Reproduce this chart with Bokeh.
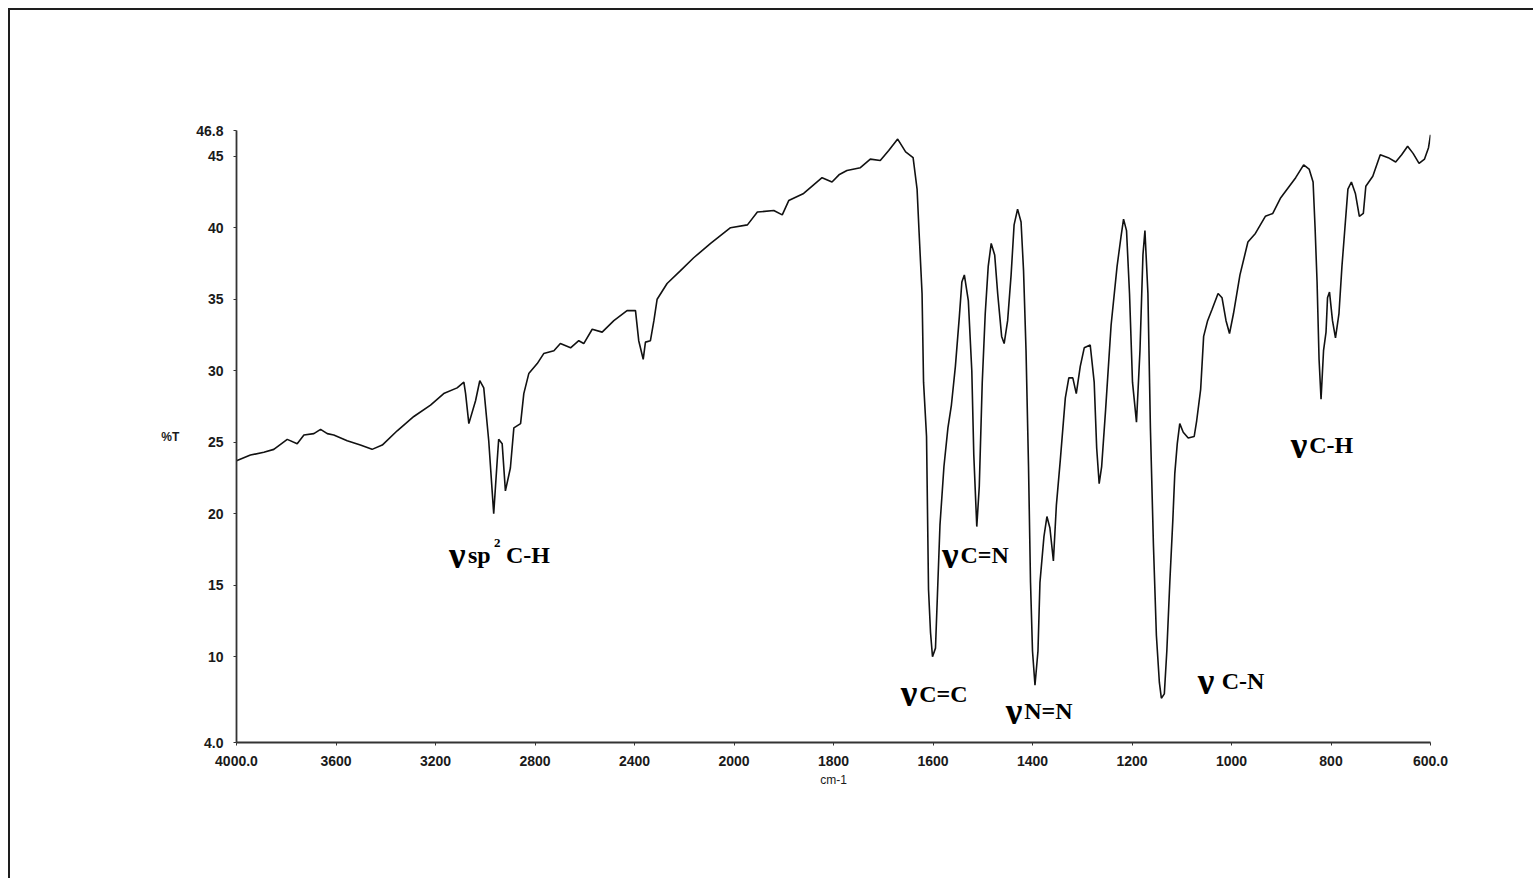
import numpy as np
from bokeh.plotting import figure
from bokeh.models import Range1d, FixedTicker
from bokeh.core.properties import value
from bokeh.embed import file_html
from bokeh.resources import INLINE

# ---- spectrum values ----
wavenumber = [
    4000, 3944, 3890, 3850, 3796, 3756, 3729, 3689, 3662, 3635, 3609, 3555, 3502, 3455, 3414,
    3354, 3287, 3220, 3167, 3113, 3086, 3079, 3066, 3039, 3022, 3006, 2986, 2966, 2952, 2946,
    2932, 2919, 2899, 2885, 2858, 2845, 2825, 2791, 2765, 2724, 2698, 2657, 2624, 2604, 2570,
    2530, 2483, 2430, 2396, 2383, 2365, 2356, 2336, 2322, 2309, 2269, 2215, 2162, 2094, 2014,
    1973, 1953, 1920, 1903, 1890, 1860, 1840, 1823, 1803, 1789, 1773, 1746, 1726, 1706, 1689,
    1671, 1655, 1640, 1632, 1628, 1622, 1619, 1613, 1609, 1605, 1601, 1595, 1591, 1586, 1578,
    1570, 1563, 1555, 1547, 1542, 1537, 1529, 1522, 1518, 1512, 1507, 1501, 1495, 1489, 1483,
    1476, 1470, 1462, 1457, 1450, 1443, 1437, 1430, 1423, 1418, 1413, 1408, 1404, 1400, 1395,
    1389, 1385, 1377, 1371, 1365, 1358, 1352, 1344, 1334, 1327, 1319, 1312, 1304, 1296, 1284,
    1276, 1271, 1266, 1261, 1253, 1242, 1230, 1222, 1217, 1211, 1205, 1199, 1191, 1184, 1178,
    1174, 1168, 1163, 1157, 1151, 1145, 1141, 1135, 1130, 1124, 1118, 1114, 1109, 1104, 1097,
    1087, 1075, 1070, 1062, 1056, 1048, 1039, 1027, 1019, 1011, 1004, 996, 983, 967, 952,
    932, 917, 901, 886, 871, 855, 844, 836, 832, 828, 824, 820, 815, 810, 807,
    803, 797, 791, 784, 778, 772, 766, 759, 751, 743, 735, 730, 716, 701, 685,
    670, 658, 646, 635, 623, 612, 604, 600,
]
transmittance = [
    23.7, 24.1, 24.3, 24.5, 25.2, 24.9, 25.5, 25.6, 25.9, 25.6, 25.5, 25.1, 24.8, 24.5, 24.8,
    25.8, 26.8, 27.6, 28.4, 28.8, 29.2, 28.4, 26.3, 27.9, 29.3, 28.8, 25.1, 20.0, 23.7, 25.2,
    24.9, 21.6, 23.2, 26.0, 26.3, 28.4, 29.8, 30.5, 31.2, 31.4, 31.9, 31.6, 32.1, 31.9, 32.9,
    32.7, 33.5, 34.2, 34.2, 32.1, 30.8, 32.0, 32.1, 33.5, 35.0, 36.1, 37.0, 37.9, 38.9, 40.0,
    40.2, 41.1, 41.2, 40.9, 41.9, 42.4, 43.0, 43.5, 43.2, 43.7, 44.0, 44.2, 44.8, 44.7, 45.4,
    46.2, 45.3, 44.9, 42.7, 39.7, 35.4, 29.2, 25.4, 14.7, 11.7, 10.0, 10.6, 14.4, 19.2, 23.3,
    26.0, 27.6, 30.3, 33.8, 36.2, 36.7, 34.9, 30.0, 24.1, 19.1, 21.9, 29.2, 34.0, 37.3, 38.9,
    38.1, 35.4, 32.4, 31.9, 33.5, 36.7, 40.2, 41.3, 40.4, 37.0, 31.4, 23.3, 15.2, 10.4, 8.0,
    10.4, 15.2, 18.4, 19.8, 19.0, 16.7, 20.6, 23.8, 28.1, 29.5, 29.5, 28.4, 30.3, 31.6, 31.8,
    29.2, 24.6, 22.1, 23.3, 27.3, 33.2, 37.3, 39.4, 40.6, 39.8, 35.4, 29.2, 26.4, 31.4, 38.1,
    39.8, 35.4, 26.0, 17.9, 11.5, 8.2, 7.1, 7.4, 10.4, 15.2, 19.5, 22.8, 24.9, 26.3, 25.7,
    25.3, 25.4, 26.5, 28.7, 32.4, 33.5, 34.3, 35.4, 35.1, 33.5, 32.6, 34.0, 36.7, 39.0, 39.6,
    40.8, 41.0, 42.1, 42.8, 43.5, 44.4, 44.1, 43.2, 40.0, 36.2, 30.8, 28.0, 31.4, 32.7, 35.1,
    35.5, 33.5, 32.3, 34.0, 37.3, 40.0, 42.7, 43.2, 42.4, 40.8, 41.0, 42.9, 43.6, 45.1, 44.9,
    44.6, 45.1, 45.7, 45.2, 44.5, 44.8, 45.6, 46.5,
]

x_tick_wn = [4000, 3600, 3200, 2800, 2400, 2000, 1800, 1600, 1400, 1200, 1000, 800, 600]
x_tick_labels = ["4000.0", "3600", "3200", "2800", "2400", "2000", "1800",
                 "1600", "1400", "1200", "1000", "800", "600.0"]
y_ticks = [4.0, 10, 15, 20, 25, 30, 35, 40, 45, 46.8]
y_tick_labels = ["4.0", "10", "15", "20", "25", "30", "35", "40", "45", "46.8"]

# band assignments: anchor (wavenumber, %T) of each label
band_wn = [3146, 1665, 1582, 1454, 1068, 881]
band_T = [17.1, 7.4, 17.1, 6.2, 8.3, 24.8]
band_text = ["sp", "C=C", "C=N", "N=N", "C-N", "C-H"]


def axis_pos(wn):
    """IR chart abscissa: 400 cm-1 per division above 2000, 200 cm-1 below."""
    wn = np.asarray(wn, dtype=float)
    return np.where(wn >= 2000, (4000.0 - wn) / 400.0, 5.0 + (2000.0 - wn) / 200.0)


p = figure(
    width=1525, height=870,
    x_range=Range1d(0, 12), y_range=Range1d(4.0, 46.8),
    output_backend="svg", toolbar_location=None,
    min_border_left=226, min_border_right=105,
    min_border_top=120, min_border_bottom=138,
    background_fill_color="white", border_fill_color="white",
    outline_line_color=None,
)
p.styles = {"margin-left": "8px", "margin-top": "8px",
            "border-top": "2px solid #1e1e1e", "border-left": "2px solid #1e1e1e"}
p.xgrid.visible = False
p.ygrid.visible = False

p.line(axis_pos(wavenumber), transmittance, line_color="#111111", line_width=1.6)

tick_font = "Liberation Sans"
xt = [int(round(v)) for v in axis_pos(x_tick_wn)]
p.xaxis.ticker = FixedTicker(ticks=xt)
p.xaxis.major_label_overrides = {t: l for t, l in zip(xt, x_tick_labels)}
p.yaxis.ticker = FixedTicker(ticks=y_ticks)
p.yaxis.major_label_overrides = {t: l for t, l in zip(y_ticks, y_tick_labels)}

for ax in (p.xaxis[0], p.yaxis[0]):
    ax.axis_line_color = "#333333"
    ax.axis_line_width = 1.8
    ax.major_tick_line_color = "#333333"
    ax.major_tick_in = 0
    ax.major_tick_out = 3
    ax.minor_tick_line_color = None
    ax.major_label_text_font = tick_font
    ax.major_label_text_font_size = "14px"
    ax.major_label_text_font_style = "bold"
    ax.major_label_text_color = "#1a1a1a"
    ax.major_label_standoff = 10

p.xaxis.axis_label = "cm-1"
p.xaxis.axis_label_text_font = tick_font
p.xaxis.axis_label_text_font_size = "12px"
p.xaxis.axis_label_text_font_style = "normal"
p.xaxis.axis_label_text_color = "#1a1a1a"
p.xaxis.axis_label_standoff = 4

p.yaxis.axis_label = "%T"
p.yaxis.axis_label_orientation = "horizontal"
p.yaxis.axis_label_text_font = tick_font
p.yaxis.axis_label_text_font_size = "12px"
p.yaxis.axis_label_text_font_style = "bold"
p.yaxis.axis_label_text_color = "#1a1a1a"
p.yaxis.axis_label_standoff = 14

# band labels: large nu + bold serif text
bx = axis_pos(band_wn)
serif = value("Liberation Serif")
p.text(x=bx, y=band_T, text=["ν"] * len(bx), text_font=serif, text_font_style="bold",
       text_font_size="37px", text_baseline="alphabetic", text_align="left", text_color="black")
p.text(x=bx, y=band_T, text=band_text, x_offset=[19, 18.5, 18.5, 18.5, 24, 18.5],
       text_font=serif, text_font_style="bold", text_font_size="24px",
       text_baseline="alphabetic", text_align="left", text_color="black")
p.text(x=bx[:1], y=band_T[:1], text=["2"], x_offset=[45], y_offset=[-12],
       text_font=serif, text_font_style="bold", text_font_size="13px",
       text_baseline="alphabetic", text_align="left", text_color="black")
p.text(x=bx[:1], y=band_T[:1], text=["C-H"], x_offset=[57],
       text_font=serif, text_font_style="bold", text_font_size="24px",
       text_baseline="alphabetic", text_align="left", text_color="black")

open("out.html", "w").write(file_html(p, INLINE))
